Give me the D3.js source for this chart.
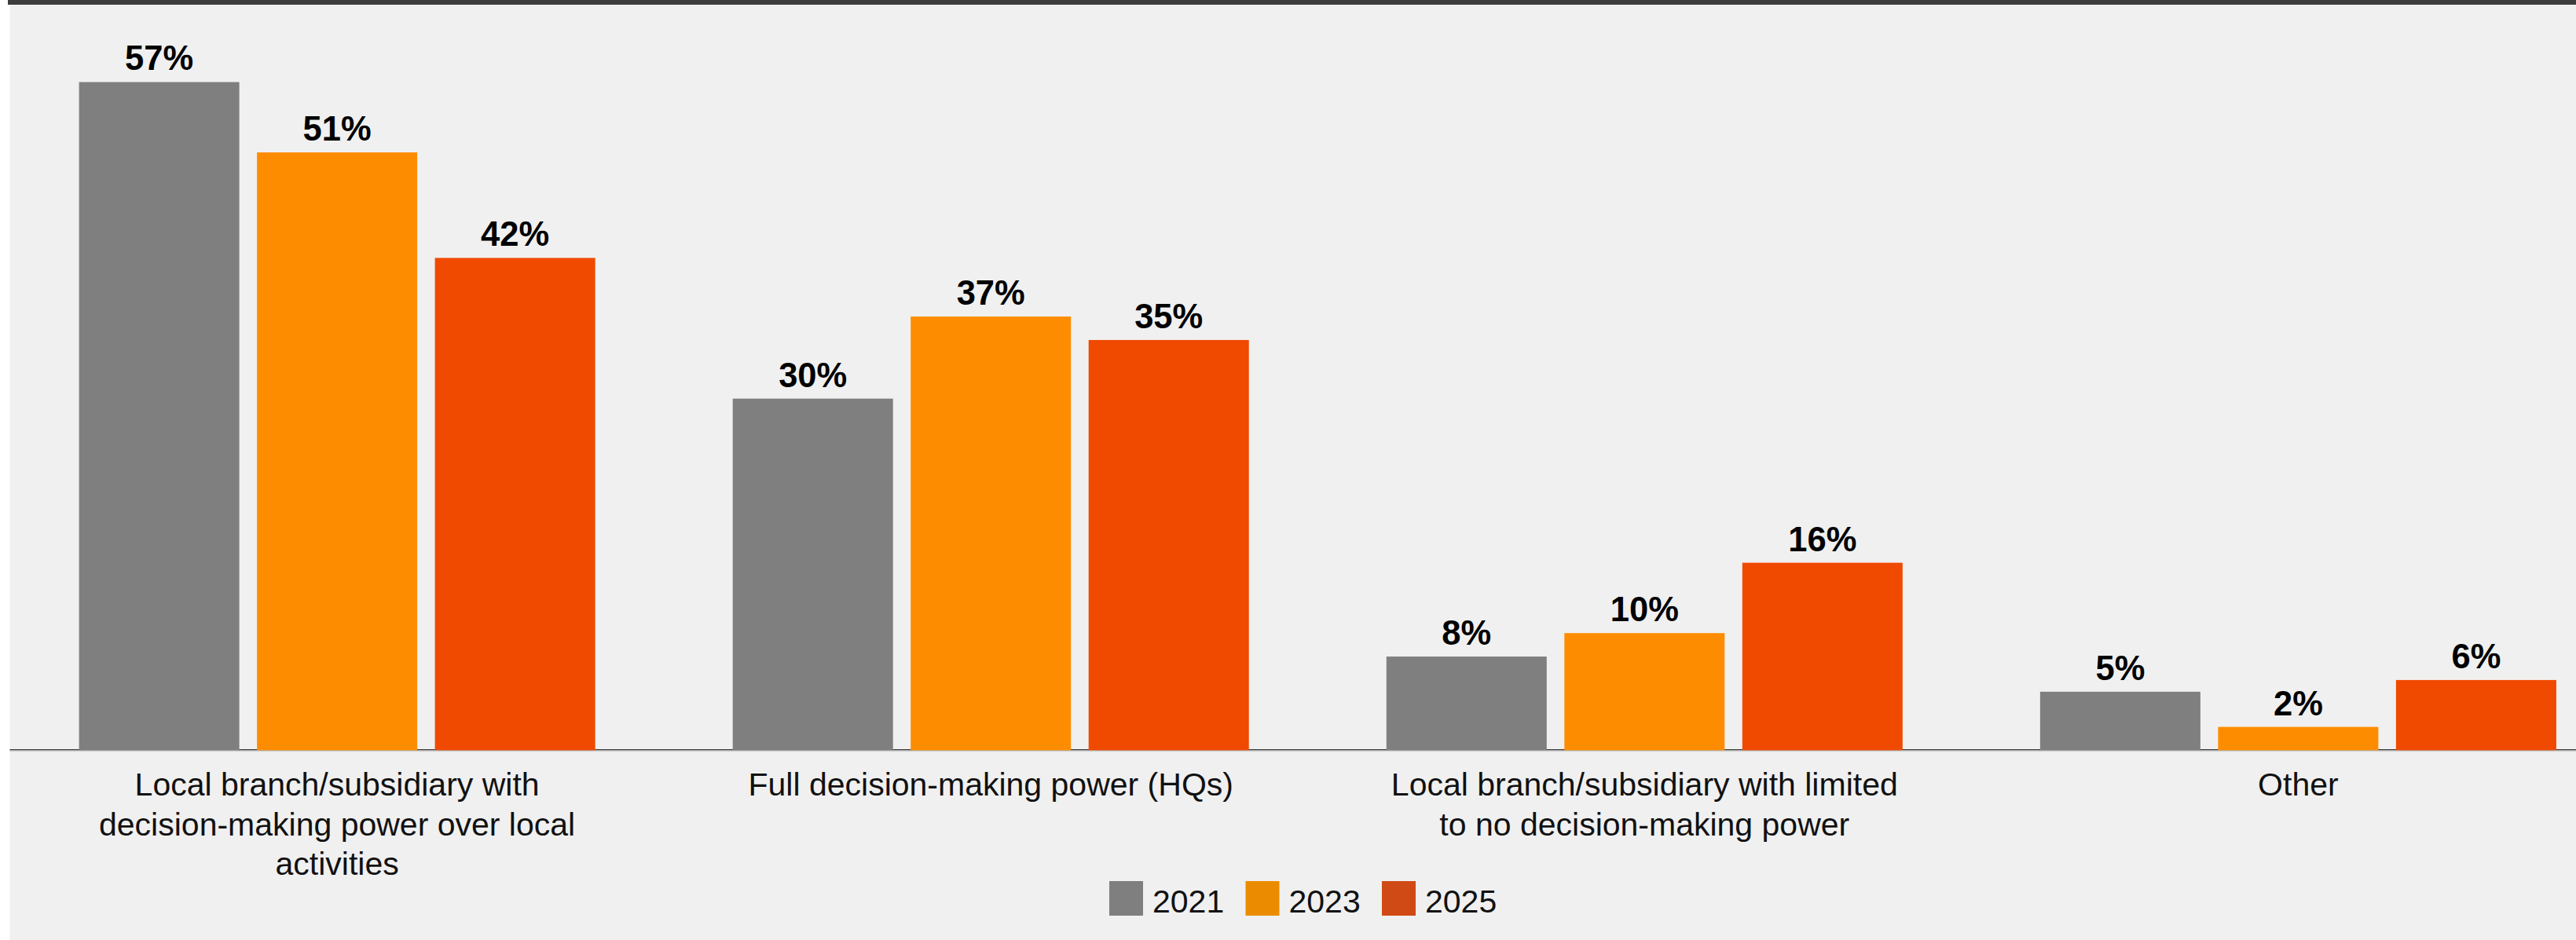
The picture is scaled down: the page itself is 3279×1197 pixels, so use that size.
<!DOCTYPE html>
<html>
<head>
<meta charset="utf-8">
<script src="https://cdn.jsdelivr.net/npm/d3@7"></script>
<style>
  html, body { margin: 0; padding: 0; background: #ffffff; }
  svg { display: block; }
</style>
</head>
<body>
<svg id="chart" width="3279" height="1197"></svg>
<script>
// Decision-making structure, share of respondents by survey year
const categories = [
  "Local branch/subsidiary with decision-making power over local activities",
  "Full decision-making power (HQs)",
  "Local branch/subsidiary with limited to no decision-making power",
  "Other"
];
const categoryLines = [
  ["Local branch/subsidiary with", "decision-making power over local", "activities"],
  ["Full decision-making power (HQs)"],
  ["Local branch/subsidiary with limited", "to no decision-making power"],
  ["Other"]
];
const years = ["2021", "2023", "2025"];
const values2021 = [57, 30, 8, 5];
const values2023 = [51, 37, 10, 2];
const values2025 = [42, 35, 16, 6];
const barColors = ["#7f7f7f", "#fe8c00", "#f04900"];
const legendColors = ["#7f7f7f", "#eb8c00", "#d04a15"];

const series = [values2021, values2023, values2025];
const rows = categories.map((c, i) => ({
  category: c,
  lines: categoryLines[i],
  values: years.map((y, j) => ({ year: y, value: series[j][i], color: barColors[j] }))
}));

const W = 3279, H = 1197;
const FONT = "'Liberation Sans', Arial, Helvetica, sans-serif";
const svg = d3.select("#chart");

// panel background and top rule
svg.append("rect").attr("x", 12.5).attr("y", 0).attr("width", W - 12.5).attr("height", H).attr("fill", "#f0f0f0");
svg.append("rect").attr("x", 10).attr("y", 0).attr("width", W - 10).attr("height", 6).attr("fill", "#3c3c3c");

const baseY = 955.5;
const y = d3.scaleLinear().domain([0, 60]).range([baseY, baseY - 60 * 14.93]);

const x0 = d3.scaleBand().domain(categories).range([100.6, 3253.9]).paddingInner(0.2104).paddingOuter(0);
const x1 = d3.scaleBand().domain(years).range([0, x0.bandwidth()]).paddingInner(0.0993).paddingOuter(0);

// baseline (dark) sits under the bars
svg.append("line").attr("x1", 12.5).attr("x2", W).attr("y1", baseY - 0.75).attr("y2", baseY - 0.75)
  .attr("stroke", "#3a3a3a").attr("stroke-width", 1.5);

const groups = svg.append("g").selectAll("g").data(rows).join("g")
  .attr("transform", d => `translate(${x0(d.category)},0)`);

groups.selectAll("rect").data(d => d.values).join("rect")
  .attr("x", d => x1(d.year))
  .attr("y", d => y(d.value))
  .attr("width", x1.bandwidth())
  .attr("height", d => baseY - y(d.value))
  .attr("fill", d => d.color);

groups.selectAll("text.val").data(d => d.values).join("text")
  .attr("class", "val")
  .attr("x", d => x1(d.year) + x1.bandwidth() / 2)
  .attr("y", d => y(d.value) - 15)
  .attr("text-anchor", "middle")
  .attr("font-family", FONT)
  .attr("font-weight", "bold")
  .attr("font-size", 43.5)
  .attr("fill", "#000")
  .text(d => d.value + "%");

// light shadow line under the axis
svg.append("line").attr("x1", 12.5).attr("x2", W).attr("y1", baseY + 1).attr("y2", baseY + 1)
  .attr("stroke", "#d2d2d2").attr("stroke-width", 1.5);

// category labels
const labels = svg.append("g").selectAll("text").data(rows).join("text")
  .attr("x", d => x0(d.category) + x0.bandwidth() / 2)
  .attr("y", 1013)
  .attr("text-anchor", "middle")
  .attr("font-family", FONT)
  .attr("font-size", 41)
  .attr("fill", "#111");
labels.selectAll("tspan").data(d => d.lines).join("tspan")
  .attr("x", function () { return this.parentNode.getAttribute("x"); })
  .attr("dy", (d, i) => i === 0 ? 0 : 50.5)
  .text(d => d);

// legend
const legend = svg.append("g").selectAll("g").data(years).join("g")
  .attr("transform", (d, i) => `translate(${1412 + i * 173.5},1122)`);
legend.append("rect").attr("width", 43).attr("height", 44).attr("fill", (d, i) => legendColors[i]);
legend.append("text")
  .attr("x", 55).attr("y", 40)
  .attr("font-family", FONT)
  .attr("font-size", 41)
  .attr("fill", "#111")
  .text(d => d);
</script>
</body>
</html>
